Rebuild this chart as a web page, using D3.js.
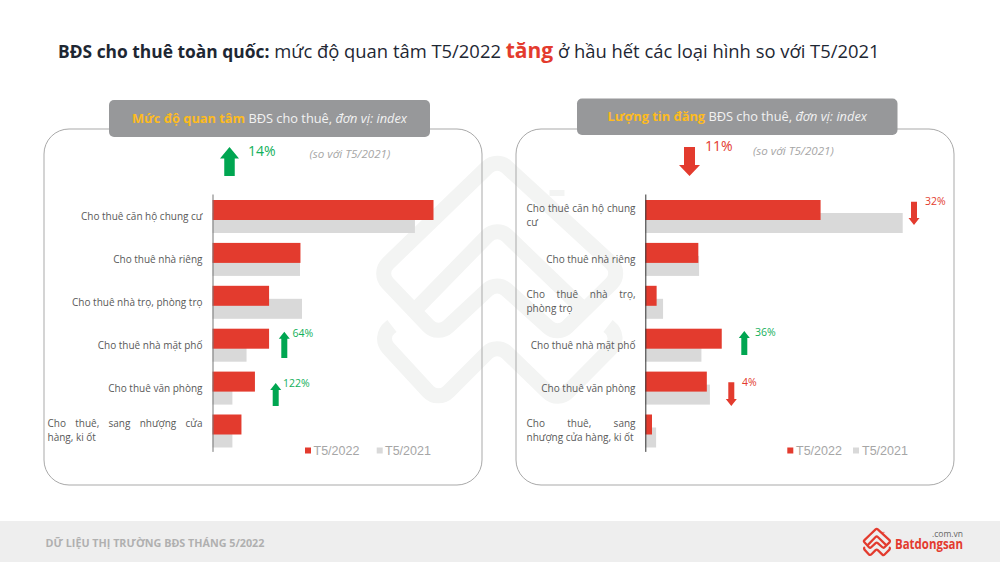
<!DOCTYPE html>
<html>
<head>
<meta charset="utf-8">
<script src="https://cdn.jsdelivr.net/npm/d3@7"></script>
<style>
  html, body { margin: 0; padding: 0; background: #fff; }
  svg { display: block; }
  text { font-family: "Open Sans", sans-serif; }
</style>
</head>
<body>
<div id="graph"></div>
<script>
/// Global Variables
var width = 1000;
var height = 562;
var red = "#e33b2e";
var grey = "#d9d9d9";
var green = "#00a651";
var labelSize = 10;

// index values (largest bar of each chart = 100)
var panels = [
  {
    x0: 44, axisX: 212.5, scaleMax: 221, axisColor: "#777",
    header: { x: 109, y: 100, w: 321, h: 37, bold: "Mức độ quan tâm", rest: " BĐS cho thuê, ", ital: "đơn vị: index" },
    labelLeft: 47.5, labelRight: 202.5,
    data: [
      { name: ["Cho thuê căn hộ chung cư"], y22: 100, y21: 91.6 },
      { name: ["Cho thuê nhà riêng"], y22: 39.8, y21: 39.6 },
      { name: ["Cho thuê nhà trọ, phòng trọ"], y22: 25.6, y21: 40.5 },
      { name: ["Cho thuê nhà mặt phố"], y22: 25.6, y21: 15.4 },
      { name: ["Cho thuê văn phòng"], y22: 19.2, y21: 9.0 },
      { name: ["Cho thuê, sang nhượng cửa", "hàng, ki ốt"], y22: 13.1, y21: 9.0 }
    ],
    total: { text: "14%", up: true, cx: 229.5, y1: 147, y2: 176, headW: 19, shaftW: 10.5, headH: 11.5, tx: 248, ty: 155.5 },
    compare: { x: 309.5, y: 158 },
    notes: [
      { text: "64%", up: true, cx: 284.3, y1: 331.7, y2: 358, tx: 292.5, ty: 336.7 },
      { text: "122%", up: true, cx: 275.7, y1: 383, y2: 406, tx: 283, ty: 386.7 }
    ],
    legend: { x22: 305, t22: 313.5, x21: 376.7, t21: 385 }
  },
  {
    x0: 516, axisX: 645.3, scaleMax: 257.4, axisColor: "#333",
    header: { x: 577, y: 98.5, w: 320.5, h: 36.5, bold: "Lượng tin đăng", rest: " BĐS cho thuê, ", ital: "đơn vị: index" },
    labelLeft: 526.5, labelRight: 635.5,
    data: [
      { name: ["Cho thuê căn hộ chung", "cư"], y22: 68.1, y21: 100 },
      { name: ["Cho thuê nhà riêng"], y22: 20.6, y21: 20.9 },
      { name: ["Cho thuê nhà trọ,", "phòng trọ"], y22: 4.4, y21: 6.9 },
      { name: ["Cho thuê nhà mặt phố"], y22: 29.7, y21: 21.8 },
      { name: ["Cho thuê văn phòng"], y22: 23.9, y21: 25.1 },
      { name: ["Cho thuê, sang", "nhượng cửa hàng, ki ốt"], y22: 2.6, y21: 4.2 }
    ],
    total: { text: "11%", up: false, cx: 689.5, y1: 147, y2: 176, headW: 21, shaftW: 11, headH: 11, tx: 705, ty: 150.5 },
    compare: { x: 753, y: 155 },
    notes: [
      { text: "32%", up: false, cx: 914, y1: 201.7, y2: 225, tx: 925, ty: 205 },
      { text: "36%", up: true, cx: 744.3, y1: 331, y2: 355, tx: 755, ty: 335.7 },
      { text: "4%", up: false, cx: 731.3, y1: 382.3, y2: 406, tx: 742, ty: 385.7 }
    ],
    legend: { x22: 787.3, t22: 796, x21: 853, t21: 862 }
  }
];

// house + chevrons of the logo, used for the watermark and the footer
var logoShapes = [
  { closed: true, pts: [[378, 273], [497, 158], [622, 273], [558, 336], [497, 281], [438, 336]] },
  { pts: [[557, 190], [557, 196]] },
  { pts: [[417, 308], [497, 226], [582, 308]] },
  { pts: [[392, 326], [378, 337], [438, 402], [497, 343], [558, 402], [622, 337], [608, 326]] }
];

var svg = d3.select("#graph")
  .append("svg")
  .attr("width", width)
  .attr("height", height)
  .attr("viewBox", "0 0 " + width + " " + height);

svg.append("rect").attr("width", width).attr("height", height).attr("fill", "#fff");

// watermark
drawLogo(svg.append("g"), "#f3f4f3", 15);

// title
var title = svg.append("text")
  .attr("x", 58)
  .attr("y", 57.5)
  .attr("font-size", 18.4)
  .attr("fill", "#1e2733");
title.append("tspan").attr("font-weight", 700).attr("font-size", 17.4).text("BĐS cho thuê toàn quốc:");
title.append("tspan").text(" mức độ quan tâm T5/2022 ");
title.append("tspan").attr("font-weight", 700).attr("font-size", 21).attr("fill", red).text("tăng");
title.append("tspan").text(" ở hầu hết các loại hình so với T5/2021");

panels.forEach(drawPanel);

// footer
svg.append("rect").attr("y", 521).attr("width", width).attr("height", 41).attr("fill", "#eeeeee");
svg.append("text")
  .attr("x", 45.5)
  .attr("y", 547)
  .attr("font-size", 10.75)
  .attr("font-weight", 700)
  .attr("fill", "#b0b0b0")
  .text("DỮ LIỆU THỊ TRƯỜNG BĐS THÁNG 5/2022");

drawLogo(svg.append("g").attr("transform", "translate(863,528) scale(0.112) translate(-375,-155)"), red, 20);

svg.append("text")
  .attr("x", 895)
  .attr("y", 548.5)
  .attr("font-size", 15)
  .attr("font-weight", 700)
  .attr("fill", red)
  .attr("textLength", 68)
  .attr("lengthAdjust", "spacingAndGlyphs")
  .text("Batdongsan");
svg.append("text")
  .attr("x", 963)
  .attr("y", 536.5)
  .attr("text-anchor", "end")
  .attr("font-size", 8.5)
  .attr("fill", "#666")
  .text(".com.vn");


function drawLogo(g, color, strokeWidth) {
  g.attr("fill", "none")
    .attr("stroke", color)
    .attr("stroke-width", strokeWidth)
    .attr("stroke-linejoin", "round")
    .attr("stroke-linecap", "butt");
  logoShapes.forEach(function (s) {
    // round the corners of each polyline
    var pts = s.pts, r = 14, n = pts.length, path = d3.path();
    if (s.closed) {
      var m = [(pts[0][0] + pts[1][0]) / 2, (pts[0][1] + pts[1][1]) / 2];
      path.moveTo(m[0], m[1]);
      for (var i = 1; i <= n; i++) {
        var a = pts[i % n], b = pts[(i + 1) % n];
        path.arcTo(a[0], a[1], b[0], b[1], r);
      }
      path.closePath();
    } else {
      path.moveTo(pts[0][0], pts[0][1]);
      for (var j = 1; j < n - 1; j++) {
        path.arcTo(pts[j][0], pts[j][1], pts[j + 1][0], pts[j + 1][1], r);
      }
      path.lineTo(pts[n - 1][0], pts[n - 1][1]);
    }
    g.append("path").attr("d", path.toString());
  });
}

function drawPanel(p) {
  svg.append("rect")
    .attr("x", p.x0)
    .attr("y", 129)
    .attr("width", 438)
    .attr("height", 356)
    .attr("rx", 25)
    .attr("fill", "none")
    .attr("stroke", "#a9a9a9")
    .attr("stroke-width", 1);

  // header box
  var h = p.header;
  svg.append("rect")
    .attr("x", h.x)
    .attr("y", h.y)
    .attr("width", h.w)
    .attr("height", h.h)
    .attr("rx", 5)
    .attr("fill", "#97989a");
  var ht = svg.append("text")
    .attr("x", h.x + h.w / 2)
    .attr("y", h.y + h.h / 2 + 4.5)
    .attr("text-anchor", "middle")
    .attr("font-size", 12.8)
    .attr("fill", "#f2f2f2");
  ht.append("tspan").attr("font-weight", 700).attr("fill", "#fdbb1f").text(h.bold);
  ht.append("tspan").text(h.rest);
  ht.append("tspan").attr("font-style", "italic").text(h.ital);

  // scales
  var xScale = d3.scaleLinear()
    .domain([0, 100])
    .range([p.axisX, p.axisX + p.scaleMax]);
  var yScale = d3.scaleBand()
    .domain(p.data.map(function (d) { return d.name.join(" "); }))
    .range([194, 451.4]);

  svg.selectAll(null)
    .data(p.data)
    .enter().append("rect")
    .attr("x", xScale(0))
    .attr("y", function (d) { return yScale(d.name.join(" ")) + 19; })
    .attr("width", function (d) { return xScale(d.y21) - xScale(0); })
    .attr("height", 20)
    .attr("fill", grey);

  svg.selectAll(null)
    .data(p.data)
    .enter().append("rect")
    .attr("x", xScale(0))
    .attr("y", function (d) { return yScale(d.name.join(" ")) + 6; })
    .attr("width", function (d) { return xScale(d.y22) - xScale(0); })
    .attr("height", 20)
    .attr("fill", red);

  var axis = svg.append("g")
    .attr("transform", "translate(" + p.axisX + ",0)")
    .call(d3.axisLeft(yScale).tickSize(0).tickFormat(""));
  axis.select(".domain").attr("stroke", p.axisColor);

  // category labels
  p.data.forEach(function (d) {
    var mid = yScale(d.name.join(" ")) + yScale.bandwidth() / 2;
    if (d.name.length == 1) {
      svg.append("text")
        .attr("x", p.labelRight)
        .attr("y", mid + 5)
        .attr("text-anchor", "end")
        .attr("font-size", labelSize)
        .attr("fill", "#595959")
        .text(d.name[0]);
    } else {
      var first = svg.append("text")
        .attr("x", p.labelLeft)
        .attr("y", mid - 3)
        .attr("font-size", labelSize)
        .attr("fill", "#595959")
        .text(d.name[0]);
      // justify the first line of the block
      var gaps = d.name[0].split(" ").length - 1;
      var room = p.labelRight - p.labelLeft - first.node().getComputedTextLength();
      first.attr("word-spacing", room / gaps);
      svg.append("text")
        .attr("x", p.labelLeft)
        .attr("y", mid + 11)
        .attr("font-size", labelSize)
        .attr("fill", "#595959")
        .text(d.name[1]);
    }
  });

  // overall change
  drawArrow(p.total);
  svg.append("text")
    .attr("x", p.total.tx)
    .attr("y", p.total.ty)
    .attr("font-size", 14)
    .attr("fill", p.total.up ? "#12b05a" : red)
    .text(p.total.text);
  svg.append("text")
    .attr("x", p.compare.x)
    .attr("y", p.compare.y)
    .attr("font-size", 11.6)
    .attr("font-style", "italic")
    .attr("fill", "#a6a6a6")
    .text("(so với T5/2021)");

  // per category changes
  p.notes.forEach(function (n) {
    drawArrow(Object.assign({ headW: 11, shaftW: 6, headH: 7 }, n));
    svg.append("text")
      .attr("x", n.tx)
      .attr("y", n.ty)
      .attr("font-size", 10.5)
      .attr("fill", n.up ? "#12b05a" : red)
      .text(n.text);
  });

  // legend
  var l = p.legend;
  svg.append("rect").attr("x", l.x22).attr("y", 447.5).attr("width", 6).attr("height", 6).attr("fill", red);
  svg.append("rect").attr("x", l.x21).attr("y", 447.5).attr("width", 6).attr("height", 6).attr("fill", grey);
  [[l.t22, "T5/2022"], [l.t21, "T5/2021"]].forEach(function (t) {
    svg.append("text")
      .attr("x", t[0])
      .attr("y", 454.5)
      .attr("font-size", 12.5)
      .attr("fill", "#a6a6a6")
      .style("font-family", "'Liberation Sans', sans-serif")
      .text(t[1]);
  });
}

function drawArrow(a) {
  var tip = a.up ? a.y1 : a.y2;
  var tail = a.up ? a.y2 : a.y1;
  var neck = a.up ? a.y1 + a.headH : a.y2 - a.headH;
  var pts = [
    [a.cx, tip],
    [a.cx + a.headW / 2, neck],
    [a.cx + a.shaftW / 2, neck],
    [a.cx + a.shaftW / 2, tail],
    [a.cx - a.shaftW / 2, tail],
    [a.cx - a.shaftW / 2, neck],
    [a.cx - a.headW / 2, neck]
  ];
  svg.append("path")
    .attr("d", d3.line()(pts) + "Z")
    .attr("fill", a.up ? green : red);
}
</script>
</body>
</html>
